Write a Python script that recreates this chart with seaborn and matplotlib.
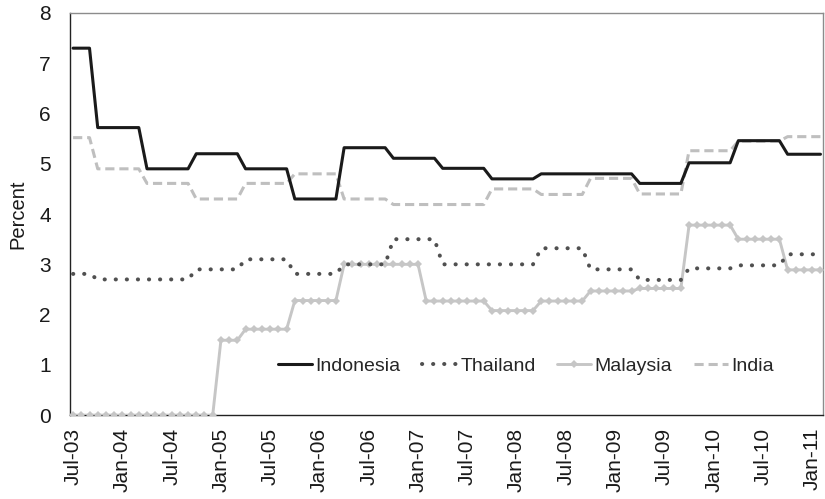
import matplotlib
matplotlib.use("Agg")
import matplotlib.pyplot as plt
import seaborn as sns
import numpy as np
import pandas as pd

sns.set_style("white")
plt.rcParams['font.family'] = ['Liberation Sans', 'DejaVu Sans']

# monthly values, Jul-03 .. Feb-11 (rows are half-years)
indonesia = [7.3, 7.3, 7.3, 5.72, 5.72, 5.72,
             5.72, 5.72, 5.72, 4.9, 4.9, 4.9,
             4.9, 4.9, 4.9, 5.2, 5.2, 5.2,
             5.2, 5.2, 5.2, 4.9, 4.9, 4.9,
             4.9, 4.9, 4.9, 4.3, 4.3, 4.3,
             4.3, 4.3, 4.3, 5.32, 5.32, 5.32,
             5.32, 5.32, 5.32, 5.11, 5.11, 5.11,
             5.11, 5.11, 5.11, 4.91, 4.91, 4.91,
             4.91, 4.91, 4.91, 4.7, 4.7, 4.7,
             4.7, 4.7, 4.7, 4.8, 4.8, 4.8,
             4.8, 4.8, 4.8, 4.8, 4.8, 4.8,
             4.8, 4.8, 4.8, 4.61, 4.61, 4.61,
             4.61, 4.61, 4.61, 5.02, 5.02, 5.02,
             5.02, 5.02, 5.02, 5.46, 5.46, 5.46,
             5.46, 5.46, 5.46, 5.19, 5.19, 5.19,
             5.19, 5.19]

thailand = [2.81, 2.81, 2.81, 2.7, 2.7, 2.7,
            2.7, 2.7, 2.7, 2.7, 2.7, 2.7,
            2.7, 2.7, 2.7, 2.9, 2.9, 2.9,
            2.9, 2.9, 2.9, 3.1, 3.1, 3.1,
            3.1, 3.1, 3.1, 2.81, 2.81, 2.81,
            2.81, 2.81, 2.81, 3.0, 3.0, 3.0,
            3.0, 3.0, 3.0, 3.5, 3.5, 3.5,
            3.5, 3.5, 3.5, 3.0, 3.0, 3.0,
            3.0, 3.0, 3.0, 3.0, 3.0, 3.0,
            3.0, 3.0, 3.0, 3.32, 3.32, 3.32,
            3.32, 3.32, 3.32, 2.9, 2.9, 2.9,
            2.9, 2.9, 2.9, 2.69, 2.69, 2.69,
            2.69, 2.69, 2.69, 2.92, 2.92, 2.92,
            2.92, 2.92, 2.92, 2.98, 2.98, 2.98,
            2.98, 2.98, 2.98, 3.2, 3.2, 3.2,
            3.2, 3.2]

malaysia = [0, 0, 0, 0, 0, 0,
            0, 0, 0, 0, 0, 0,
            0, 0, 0, 0, 0, 0,
            1.49, 1.49, 1.49, 1.71, 1.71, 1.71,
            1.71, 1.71, 1.71, 2.28, 2.28, 2.28,
            2.28, 2.28, 2.28, 3.0, 3.0, 3.0,
            3.0, 3.0, 3.0, 3.0, 3.0, 3.0,
            3.0, 2.27, 2.27, 2.27, 2.27, 2.27,
            2.27, 2.27, 2.27, 2.08, 2.08, 2.08,
            2.08, 2.08, 2.08, 2.27, 2.27, 2.27,
            2.27, 2.27, 2.27, 2.47, 2.47, 2.47,
            2.47, 2.47, 2.47, 2.52, 2.52, 2.52,
            2.52, 2.52, 2.52, 3.78, 3.78, 3.78,
            3.78, 3.78, 3.78, 3.5, 3.5, 3.5,
            3.5, 3.5, 3.5, 2.89, 2.89, 2.89,
            2.89, 2.89]

india = [5.52, 5.52, 5.52, 4.9, 4.9, 4.9,
         4.9, 4.9, 4.9, 4.61, 4.61, 4.61,
         4.61, 4.61, 4.61, 4.3, 4.3, 4.3,
         4.3, 4.3, 4.3, 4.61, 4.61, 4.61,
         4.61, 4.61, 4.61, 4.8, 4.8, 4.8,
         4.8, 4.8, 4.8, 4.3, 4.3, 4.3,
         4.3, 4.3, 4.3, 4.19, 4.19, 4.19,
         4.19, 4.19, 4.19, 4.19, 4.19, 4.19,
         4.19, 4.19, 4.19, 4.5, 4.5, 4.5,
         4.5, 4.5, 4.5, 4.39, 4.39, 4.39,
         4.39, 4.39, 4.39, 4.71, 4.71, 4.71,
         4.71, 4.71, 4.71, 4.4, 4.4, 4.4,
         4.4, 4.4, 4.4, 5.26, 5.26, 5.26,
         5.26, 5.26, 5.26, 5.45, 5.45, 5.45,
         5.45, 5.45, 5.45, 5.54, 5.54, 5.54,
         5.54, 5.54]

tick_labels = ["Jul-03", "Jan-04", "Jul-04", "Jan-05", "Jul-05", "Jan-06",
               "Jul-06", "Jan-07", "Jul-07", "Jan-08", "Jul-08", "Jan-09",
               "Jul-09", "Jan-10", "Jul-10", "Jan-11"]

months = np.arange(len(indonesia))
df = pd.DataFrame({'Month': months, 'Indonesia': indonesia, 'Thailand': thailand,
                   'Malaysia': malaysia, 'India': india})

fig, ax = plt.subplots(1, 1, figsize=(8.25, 4.99), dpi=100)
fig.subplots_adjust(left=0.085, right=0.997, top=0.974, bottom=0.168)

sns.lineplot(data=df, x='Month', y='India', ax=ax, color='#bfbfbf', linewidth=2.2,
             linestyle=(0, (3.0, 1.6)), zorder=2, label='India')
sns.lineplot(data=df, x='Month', y='Malaysia', ax=ax, color='#c6c6c6', linewidth=2.1,
             marker='D', markersize=4.2, markeredgewidth=0, zorder=3, label='Malaysia')
sns.lineplot(data=df, x='Month', y='Thailand', ax=ax, color='#505050', linewidth=2.9,
             linestyle=(0, (0.05, 2.7)), dash_capstyle='round', zorder=4, label='Thailand')
sns.lineplot(data=df, x='Month', y='Indonesia', ax=ax, color='#1a1a1a', linewidth=2.2,
             zorder=5, label='Indonesia')

ax.set_xlim(-0.36, 91.25)
ax.set_ylim(0, 8)
ax.set_yticks(range(0, 9))
ax.set_xticks(months[::6])
ax.set_xticklabels(tick_labels, rotation=90)
ax.tick_params(axis='both', length=0, labelsize=15, colors='#1a1a1a')
ax.tick_params(axis='y', pad=14)
ax.tick_params(axis='x', pad=9)

ax.set_xlabel('')
ax.set_ylabel('Percent', fontsize=14.5, color='#1a1a1a', labelpad=8)

for side in ['left', 'bottom']:
    ax.spines[side].set_color('#222222')
    ax.spines[side].set_linewidth(1.0)
for side in ['top', 'right']:
    ax.spines[side].set_color('#8c8c8c')
    ax.spines[side].set_linewidth(1.0)

handles, labels = ax.get_legend_handles_labels()
order = [labels.index(n) for n in ['Indonesia', 'Thailand', 'Malaysia', 'India']]
ax.legend([handles[i] for i in order], [labels[i] for i in order],
          loc='center', bbox_to_anchor=(0.606, 0.122), ncol=4, frameon=False,
          fontsize=14, handlelength=1.75, handletextpad=0.2, columnspacing=1.1)

plt.savefig('out.png', dpi=100)
